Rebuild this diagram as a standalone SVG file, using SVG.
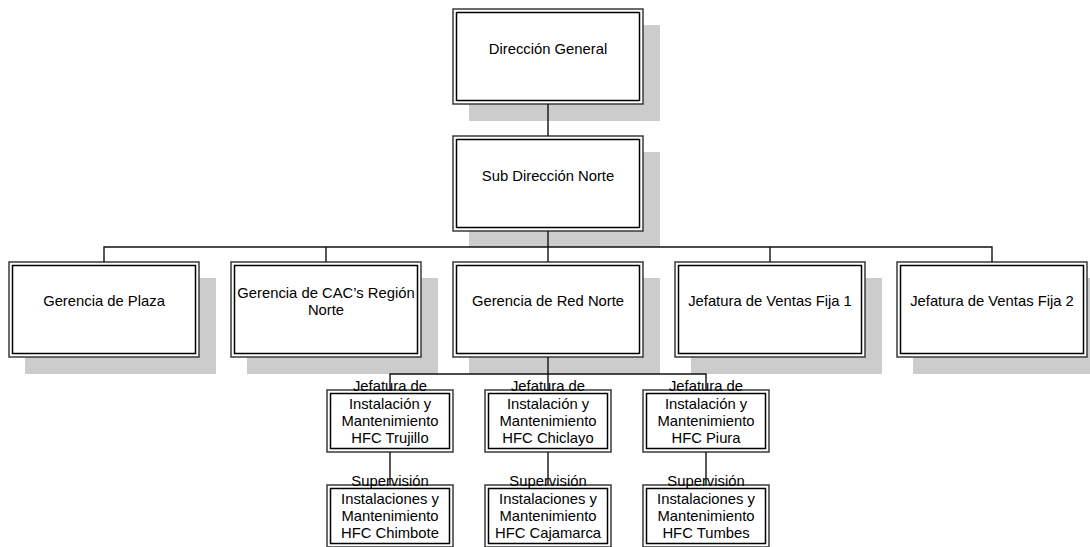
<svg xmlns="http://www.w3.org/2000/svg" width="1090" height="547" viewBox="0 0 1090 547">
  <style>
    .shadow { fill: #cccccc; }
    .outer { fill: #ffffff; stroke: #3a3a3a; stroke-width: 1.5; }
    .inner { fill: none; stroke: #000000; stroke-width: 1.5; }
    .lbl { font-family: "Liberation Sans", Arial, sans-serif; font-size: 14.8px; text-anchor: middle; fill: #000000; }
    .conn { fill: none; stroke: #111111; stroke-width: 1.4; }
  </style>
  <rect width="1090" height="547" fill="#ffffff"/>

  <!-- Top level -->
  <g id="direccion-general">
    <rect class="shadow" x="469" y="25" width="191" height="96"/>
    <rect class="outer" x="453" y="9" width="190" height="95"/>
    <rect class="inner" x="456.5" y="12.5" width="183" height="88"/>
    <text class="lbl" x="548" y="54">Dirección General</text>
  </g>

  <g id="sub-direccion-norte">
    <rect class="shadow" x="469" y="152" width="191" height="95"/>
    <rect class="outer" x="453" y="136" width="190" height="95"/>
    <rect class="inner" x="456.5" y="139.5" width="183" height="88"/>
    <text class="lbl" x="548" y="181">Sub Dirección Norte</text>
  </g>

  <!-- Second level -->
  <g id="gerencia-plaza">
    <rect class="shadow" x="25" y="278" width="191" height="96"/>
    <rect class="outer" x="9" y="262" width="190" height="95"/>
    <rect class="inner" x="12.5" y="265.5" width="183" height="88"/>
    <text class="lbl" x="104" y="306">Gerencia de Plaza</text>
  </g>

  <g id="gerencia-cac">
    <rect class="shadow" x="247" y="278" width="191" height="96"/>
    <rect class="outer" x="231" y="262" width="190" height="95"/>
    <rect class="inner" x="234.5" y="265.5" width="183" height="88"/>
    <text class="lbl" x="326" y="298">Gerencia de CAC’s Región</text>
    <text class="lbl" x="326" y="315">Norte</text>
  </g>

  <g id="gerencia-red-norte">
    <rect class="shadow" x="469" y="278" width="191" height="96"/>
    <rect class="outer" x="453" y="262" width="190" height="95"/>
    <rect class="inner" x="456.5" y="265.5" width="183" height="88"/>
    <text class="lbl" x="548" y="306">Gerencia de Red Norte</text>
  </g>

  <g id="ventas-fija-1">
    <rect class="shadow" x="691" y="278" width="191" height="96"/>
    <rect class="outer" x="675" y="262" width="190" height="95"/>
    <rect class="inner" x="678.5" y="265.5" width="183" height="88"/>
    <text class="lbl" x="770" y="306">Jefatura de Ventas Fija 1</text>
  </g>

  <g id="ventas-fija-2">
    <rect class="shadow" x="913" y="278" width="191" height="96"/>
    <rect class="outer" x="897" y="262" width="190" height="95"/>
    <rect class="inner" x="900.5" y="265.5" width="183" height="88"/>
    <text class="lbl" x="992" y="306">Jefatura de Ventas Fija 2</text>
  </g>

  <!-- Third level: installation and maintenance heads -->
  <g id="jefatura-trujillo">
    <rect class="outer" x="327" y="390" width="126" height="62"/>
    <rect class="inner" x="330.5" y="393.5" width="119" height="55"/>
    <text class="lbl" x="390" y="391">Jefatura de</text>
    <text class="lbl" x="390" y="408.5">Instalación y</text>
    <text class="lbl" x="390" y="425.5">Mantenimiento</text>
    <text class="lbl" x="390" y="442.5">HFC Trujillo</text>
  </g>

  <g id="jefatura-chiclayo">
    <rect class="outer" x="485" y="390" width="126" height="62"/>
    <rect class="inner" x="488.5" y="393.5" width="119" height="55"/>
    <text class="lbl" x="548" y="391">Jefatura de</text>
    <text class="lbl" x="548" y="408.5">Instalación y</text>
    <text class="lbl" x="548" y="425.5">Mantenimiento</text>
    <text class="lbl" x="548" y="442.5">HFC Chiclayo</text>
  </g>

  <g id="jefatura-piura">
    <rect class="outer" x="643" y="390" width="126" height="62"/>
    <rect class="inner" x="646.5" y="393.5" width="119" height="55"/>
    <text class="lbl" x="706" y="391">Jefatura de</text>
    <text class="lbl" x="706" y="408.5">Instalación y</text>
    <text class="lbl" x="706" y="425.5">Mantenimiento</text>
    <text class="lbl" x="706" y="442.5">HFC Piura</text>
  </g>

  <!-- Fourth level: supervision -->
  <g id="supervision-chimbote">
    <rect class="outer" x="327" y="485" width="126" height="62"/>
    <rect class="inner" x="330.5" y="488.5" width="119" height="55"/>
    <text class="lbl" x="390" y="486">Supervisión</text>
    <text class="lbl" x="390" y="503.5">Instalaciones y</text>
    <text class="lbl" x="390" y="520.5">Mantenimiento</text>
    <text class="lbl" x="390" y="537.5">HFC Chimbote</text>
  </g>

  <g id="supervision-cajamarca">
    <rect class="outer" x="485" y="485" width="126" height="62"/>
    <rect class="inner" x="488.5" y="488.5" width="119" height="55"/>
    <text class="lbl" x="548" y="486">Supervisión</text>
    <text class="lbl" x="548" y="503.5">Instalaciones y</text>
    <text class="lbl" x="548" y="520.5">Mantenimiento</text>
    <text class="lbl" x="548" y="537.5">HFC Cajamarca</text>
  </g>

  <g id="supervision-tumbes">
    <rect class="outer" x="643" y="485" width="126" height="62"/>
    <rect class="inner" x="646.5" y="488.5" width="119" height="55"/>
    <text class="lbl" x="706" y="486">Supervisión</text>
    <text class="lbl" x="706" y="503.5">Instalaciones y</text>
    <text class="lbl" x="706" y="520.5">Mantenimiento</text>
    <text class="lbl" x="706" y="537.5">HFC Tumbes</text>
  </g>

  <!-- Connectors -->
  <g id="connectors">
    <path class="conn" d="M548,104 V136"/>
    <path class="conn" d="M548,231 V262"/>
    <path class="conn" d="M104,262 V247 H992 V262"/>
    <path class="conn" d="M326,247 V262"/>
    <path class="conn" d="M770,247 V262"/>
    <path class="conn" d="M548,357 V390"/>
    <path class="conn" d="M390,390 V374 H706 V390"/>
    <path class="conn" d="M390,452 V485"/>
    <path class="conn" d="M548,452 V485"/>
    <path class="conn" d="M706,452 V485"/>
  </g>
</svg>
